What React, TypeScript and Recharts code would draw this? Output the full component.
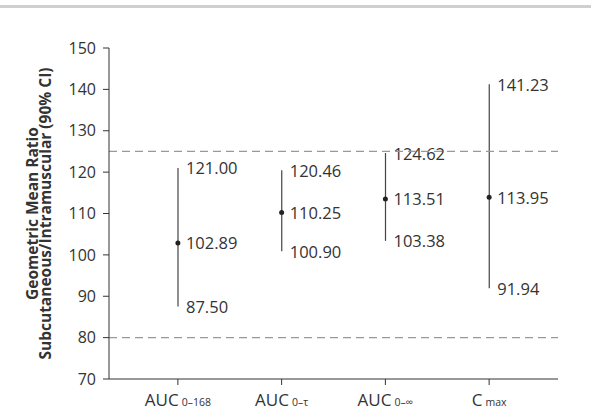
import React from 'react'
import { ComposedChart, XAxis, YAxis, Bar, Line, ReferenceLine, LabelList } from 'recharts'

const mainLabels = ['AUC', 'AUC', 'AUC', 'C']
const subLabels = ['0–168', '0–τ', '0–∞', 'max']
const means = [102.89, 110.25, 113.51, 113.95]
const lows = [87.5, 100.9, 103.38, 91.94]
const highs = [121.0, 120.46, 124.62, 141.23]
const yTicks = [70, 80, 90, 100, 110, 120, 130, 140, 150]
const limits = [80, 125]

const FONT = '"Open Sans", sans-serif'
const INK = '#333'
const VAL_SIZE = 16.5

const data = mainLabels.map((m, i) => ({
    name: m + subLabels[i],
    mean: means[i],
    range: [lows[i], highs[i]],
    low: lows[i],
    high: highs[i],
}))

// category tick with a subscript part
const CatTick = (props: any) => {
    const { x, y, index } = props
    return (
        <text x={x} y={y + 19} textAnchor="middle" fill={INK} fontFamily={FONT}>
            <tspan fontSize={17}>{mainLabels[index]}</tspan>
            <tspan fontSize={10.5} dx={3}>{subLabels[index]}</tspan>
        </text>
    )
}

// vertical CI line with the upper/lower values beside it
const RangeShape = (props: any) => {
    const { x, y, width, height, payload } = props
    const cx = x + width / 2
    const top = Math.min(y, y + height)
    const bottom = Math.max(y, y + height)
    return (
        <g>
            <line x1={cx} x2={cx} y1={top} y2={bottom} stroke="#444" strokeWidth={1.2} />
            <text x={cx + 8} y={top} dominantBaseline="central" fontSize={VAL_SIZE} fill={INK} fontFamily={FONT}>
                {payload.high.toFixed(2)}
            </text>
            <text x={cx + 8} y={bottom} dominantBaseline="central" fontSize={VAL_SIZE} fill={INK} fontFamily={FONT}>
                {payload.low.toFixed(2)}
            </text>
        </g>
    )
}

const MeanLabel = (props: any) => {
    const { x, y, value } = props
    return (
        <text x={x + 8} y={y} dominantBaseline="central" fontSize={VAL_SIZE} fill={INK} fontFamily={FONT}>
            {Number(value).toFixed(2)}
        </text>
    )
}

const YLabel = (props: any) => {
    const { viewBox } = props
    const cy = viewBox.y + viewBox.height / 2
    const x1 = viewBox.x + 38
    const x2 = viewBox.x + 51
    return (
        <g fontFamily={FONT} fontWeight="bold" fontSize={15.5} fill={INK}>
            <text x={x1} y={cy} textAnchor="middle" transform={`rotate(-90, ${x1}, ${cy})`}>
                Geometric Mean Ratio
            </text>
            <text x={x2} y={cy} textAnchor="middle" transform={`rotate(-90, ${x2}, ${cy})`}>
                Subcutaneous/Intramuscular (90% CI)
            </text>
        </g>
    )
}

export default function App() {
    return (
        <div style={{ position: 'absolute', left: 0, top: 0, width: 591, height: 411, background: '#fff' }}>
            <div style={{ position: 'absolute', left: 0, top: 5, width: 591, height: 3, background: '#cfcfcf' }} />
            <ComposedChart
                width={591}
                height={411}
                data={data}
                margin={{ top: 48, right: 33, bottom: 0, left: 0 }}
            >
                <XAxis
                    dataKey="name"
                    interval={0}
                    padding={{ left: 17, right: 17 }}
                    height={32}
                    tickSize={6}
                    stroke={INK}
                    tick={<CatTick />}
                />
                <YAxis
                    type="number"
                    domain={[70, 150]}
                    ticks={yTicks}
                    interval={0}
                    width={109}
                    tickSize={6}
                    tickMargin={7}
                    stroke={INK}
                    tick={{ fill: INK, fontSize: 16, fontFamily: FONT }}
                    label={{ content: <YLabel /> }}
                />
                {limits.map((v) => (
                    <ReferenceLine key={v} y={v} stroke="#999" strokeDasharray="8 5" strokeWidth={1.2} />
                ))}
                <Bar dataKey="range" barSize={10} shape={<RangeShape />} isAnimationActive={false} />
                <Line
                    dataKey="mean"
                    stroke="none"
                    dot={{ r: 2.5, fill: '#222', stroke: 'none' }}
                    activeDot={false}
                    isAnimationActive={false}
                >
                    <LabelList dataKey="mean" content={<MeanLabel />} />
                </Line>
            </ComposedChart>
        </div>
    )
}
